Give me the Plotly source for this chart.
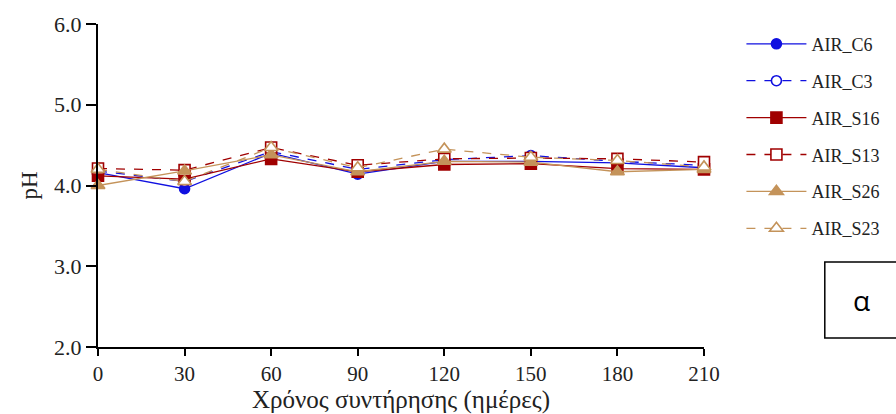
import plotly.graph_objects as go

days = [0, 30, 60, 90, 120, 150, 180, 210]
air_c6 = [4.16, 3.96, 4.40, 4.14, 4.30, 4.30, 4.28, 4.22]
air_c3 = [4.18, 4.05, 4.42, 4.20, 4.32, 4.37, 4.30, 4.25]
air_s16 = [4.12, 4.08, 4.33, 4.17, 4.26, 4.27, 4.21, 4.20]
air_s13 = [4.21, 4.19, 4.47, 4.25, 4.33, 4.34, 4.33, 4.29]
air_s26 = [4.00, 4.18, 4.38, 4.17, 4.30, 4.29, 4.17, 4.20]
air_s23 = [4.20, 4.05, 4.47, 4.22, 4.45, 4.35, 4.31, 4.23]

BLUE = "#1010e0"
RED = "#a00000"
TAN = "#c4935a"

series = [
    ("AIR_C6", air_c6, BLUE, "solid", "circle", 10, True),
    ("AIR_C3", air_c3, BLUE, "dash", "circle", 10, False),
    ("AIR_S16", air_s16, RED, "solid", "square", 11, True),
    ("AIR_S13", air_s13, RED, "dash", "square", 11, False),
    ("AIR_S26", air_s26, TAN, "solid", "triangle-up", 12, True),
    ("AIR_S23", air_s23, TAN, "dash", "triangle-up", 12, False),
]

fig = go.Figure()
for i, (name, vals, col, dash, sym, sz, filled) in enumerate(series):
    fig.add_trace(go.Scatter(
        x=days, y=vals, name=name, mode="lines+markers",
        line=dict(color=col, width=1.3, dash=dash),
        marker=dict(symbol=sym, size=sz, color=col if filled else "white",
                    line=dict(color=col, width=1.6)),
        legendgroup=f"g{i}", cliponaxis=False,
    ))

serif = "Liberation Serif"
fig.update_layout(
    width=896, height=414,
    margin=dict(l=98, r=191, t=24, b=67),
    paper_bgcolor="white", plot_bgcolor="white",
    font=dict(family=serif, color="#222222", size=16),
    showlegend=True,
    legend=dict(x=1.06, y=0.995, xanchor="left", yanchor="top",
                font=dict(family=serif, size=18, color="#222222"),
                tracegroupgap=10.5, itemwidth=60, maxheight=400,
                bgcolor="rgba(0,0,0,0)"),
    xaxis=dict(range=[0, 210], tickvals=days, ticks="outside", ticklen=7,
               tickwidth=1.5, tickcolor="black", showline=True, linecolor="black",
               linewidth=2, showgrid=False, zeroline=False, automargin=False,
               tickfont=dict(family=serif, size=21),
               title=dict(text="Χρόνος συντήρησης (ημέρες)",
                          font=dict(family=serif, size=25), standoff=8)),
    yaxis=dict(range=[2, 6], tickvals=[2, 3, 4, 5, 6], tickformat=".1f",
               ticks="outside", ticklen=10, tickwidth=1.5, tickcolor="black",
               showline=True, linecolor="black", linewidth=2, showgrid=False,
               zeroline=False, automargin=False, tickfont=dict(family=serif, size=22),
               title=dict(text="pH", font=dict(family=serif, size=23), standoff=10)),
    shapes=[dict(type="rect", xref="paper", yref="paper",
                 x0=(826 - 98) / 607, x1=(900 - 98) / 607,
                 y0=(347 - 338) / 323, y1=(347 - 262) / 323,
                 line=dict(color="black", width=1.5))],
    annotations=[dict(text="α", xref="paper", yref="paper",
                      x=(873 - 98) / 607, y=(347 - 300) / 323,
                      showarrow=False, yanchor="middle",
                      font=dict(family="Open Sans", size=28, color="black"))],
)

fig.write_html("out.html")
